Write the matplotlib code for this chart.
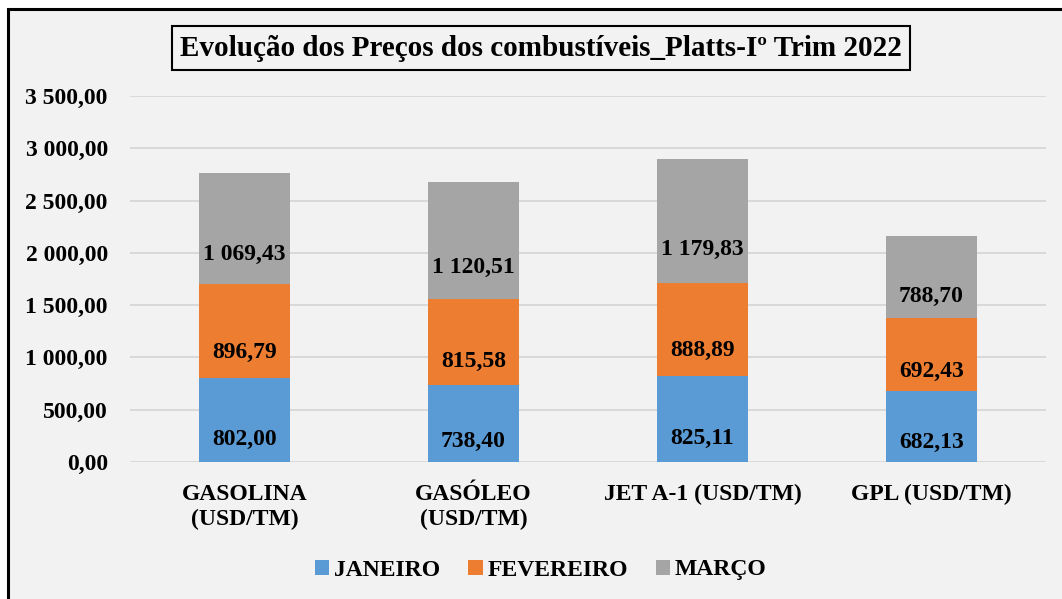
import numpy as np
import matplotlib.pyplot as plt
from matplotlib.patches import Rectangle

categories = ["GASOLINA\n(USD/TM)", "GASÓLEO\n(USD/TM)", "JET A-1 (USD/TM)", "GPL (USD/TM)"]
janeiro = [802.00, 738.40, 825.11, 682.13]
fevereiro = [896.79, 815.58, 888.89, 692.43]
marco = [1069.43, 1120.51, 1179.83, 788.70]
series_names = ["JANEIRO", "FEVEREIRO", "MARÇO"]
colors = ["#5b9bd5", "#ed7d31", "#a5a5a5"]
yticks = [0, 500, 1000, 1500, 2000, 2500, 3000, 3500]

plt.rcParams['font.family'] = ['Liberation Serif', 'DejaVu Serif']
plt.rcParams['font.weight'] = 'bold'


def fmt(v):
    s = f"{v:,.2f}"
    return s.replace(",", " ").replace(".", ",")


W, H = 1062, 599
fig = plt.figure(figsize=(W / 100, H / 100), dpi=100, facecolor="white")

# chart area background and border (left/top visible)
fig.add_artist(Rectangle((8 / W, -0.1), 1.2, 1 - 9 / H + 0.1, transform=fig.transFigure,
                         facecolor="#f2f2f2", edgecolor="black", lw=2.2, zorder=0))

ax = fig.add_axes([130 / W, 1 - 462 / H, (1046 - 130) / W, 366 / H])
ax.set_facecolor("none")

x = np.arange(len(categories))
width = 0.40
bottom = np.zeros(len(categories))
for name, vals, c in zip(series_names, [janeiro, fevereiro, marco], colors):
    vals = np.array(vals)
    ax.bar(x, vals, width, bottom=bottom, color=c, label=name, zorder=3)
    for xi, b, v in zip(x, bottom, vals):
        ax.text(xi, b + 0.27 * v, fmt(v), ha="center", va="center",
                fontsize=17, fontweight="bold", color="black", zorder=4)
    bottom += vals

ax.set_xlim(-0.5, len(categories) - 0.5)
ax.set_ylim(0, 3500)
ax.set_yticks(yticks)
ax.set_yticklabels([fmt(v) for v in yticks], fontsize=17, fontweight="bold")
ax.set_xticks(x)
ax.set_xticklabels(categories, fontsize=17, fontweight="bold", linespacing=1.25, va="top")
ax.tick_params(axis="both", length=0)
ax.tick_params(axis="y", pad=16)
ax.tick_params(axis="x", pad=16)
ax.yaxis.grid(True, color="#d9d9d9", lw=1.4, zorder=0)
ax.set_axisbelow(True)
for s in ax.spines.values():
    s.set_visible(False)

fig.text(541 / W, 1 - 48 / H, "Evolução dos Preços dos combustíveis_Platts-Iº Trim 2022",
         ha="center", va="center", fontsize=21, fontweight="bold",
         bbox=dict(boxstyle="square,pad=0.28", facecolor="#f2f2f2", edgecolor="black", lw=1.5))

fig.legend(loc="center", bbox_to_anchor=(541 / W, 1 - 570 / H), ncol=3, frameon=False,
           prop={"size": 17, "weight": "bold"}, handlelength=0.6, handleheight=0.6,
           handletextpad=0.2, columnspacing=1.2)

fig.savefig("out.png", dpi=100, facecolor=fig.get_facecolor())
